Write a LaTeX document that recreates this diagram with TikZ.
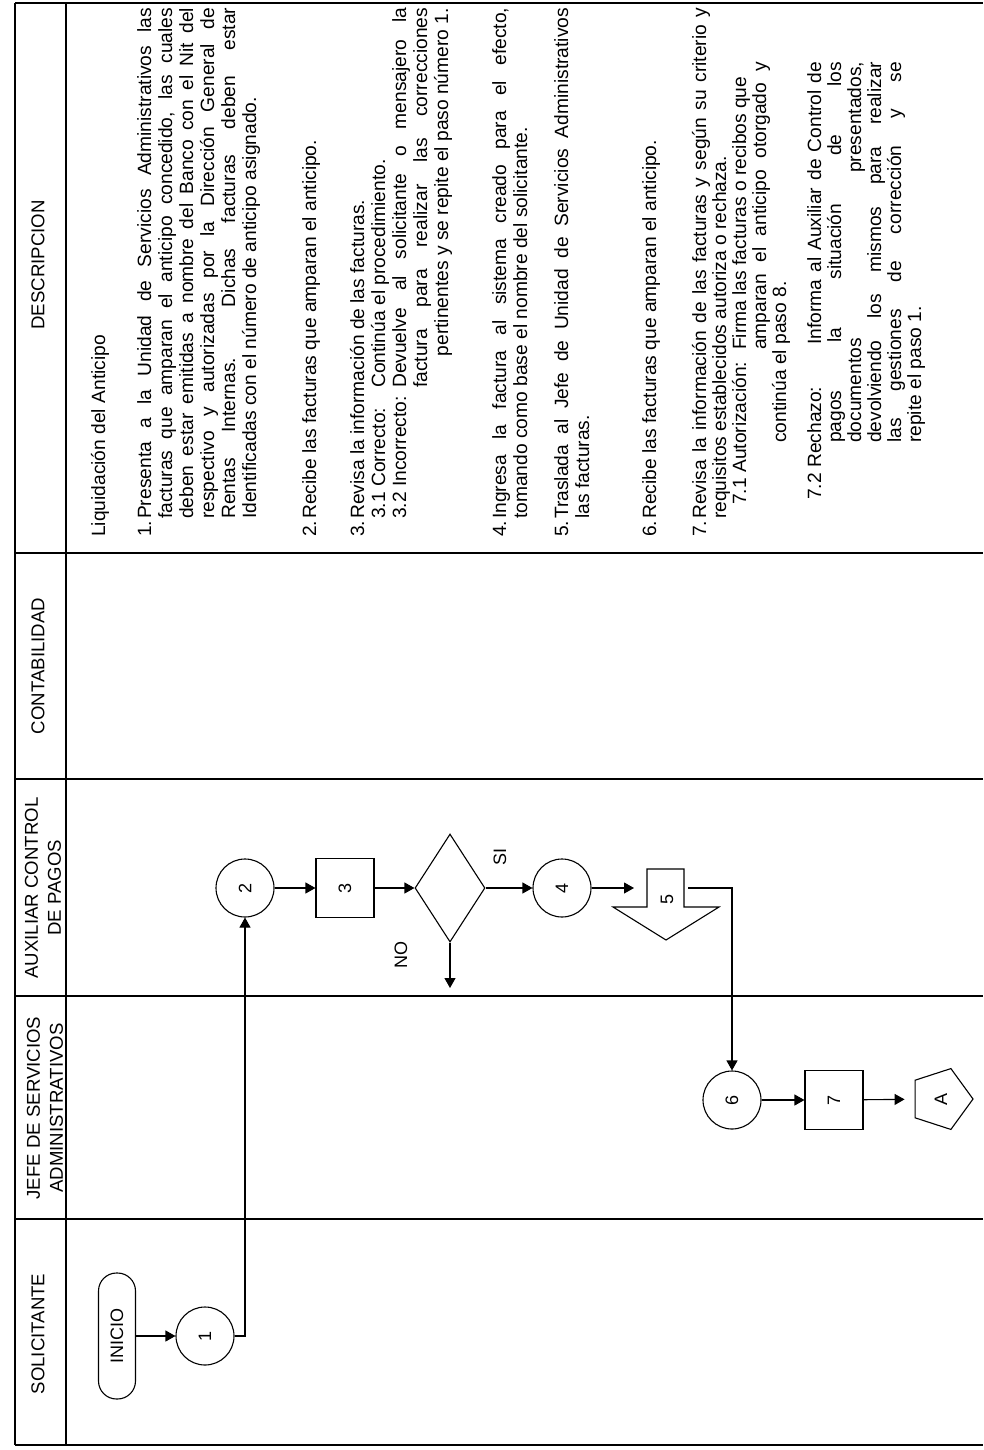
\documentclass[tikz,border=0pt]{standalone}
\usepackage{fontspec}
\setmainfont{Liberation Sans}
\usetikzlibrary{arrows.meta,shapes.geometric}
\newcommand\JL[2]{\makebox[#1pt][s]{#2}}
\newcommand\NB[2]{\makebox[#1pt][l]{#2}}
\begin{document}
\begin{tikzpicture}[x=1pt,y=-1pt,
  every node/.style={inner sep=0pt},
  lane/.style={line width=1.4pt},
  hdr/.style={rotate=90, font=\fontsize{18.6}{23}\selectfont, align=center},
  dtxt/.style={rotate=90, anchor=base west, font=\fontsize{19.2}{22}\selectfont},
  dtxtr/.style={dtxt, anchor=base east},
  flow/.style={line width=1.1pt},
  arr/.style={flow, -{Triangle[length=10pt,width=11pt]}},
  circ/.style={draw, circle, line width=1.1pt, minimum size=58pt, rotate=90, font=\fontsize{18}{20}\selectfont},
  proc/.style={draw, rectangle, line width=1.1pt, minimum width=59pt, minimum height=58pt, rotate=90, font=\fontsize{18}{20}\selectfont},
  term/.style={draw, rectangle, rounded corners=18pt, line width=1.1pt, minimum width=126pt, minimum height=37pt, rotate=90, font=\fontsize{18}{20}\selectfont},
  dec/.style={draw, diamond, line width=1.1pt, minimum width=70pt, minimum height=108pt},
  pent/.style={draw, regular polygon, regular polygon sides=5, minimum size=64pt, line width=1.1pt, rotate=90, shape border rotate=180, font=\fontsize{18}{20}\selectfont},
  lbl/.style={rotate=90, font=\fontsize{18}{20}\selectfont}
]
\useasboundingbox (0,0) rectangle (983,1450);
\fill[white] (0,0) rectangle (983,1450);

% table frame and lanes
\draw[lane] (15,3) -- (983,3);
\draw[lane] (15,1445) -- (983,1445);
\draw[lane] (15,3) -- (15,1445);
\draw[lane] (66,3) -- (66,1445);
\draw[lane] (15,553) -- (983,553);
\draw[lane] (15,779) -- (983,779);
\draw[lane] (15,996) -- (983,996);
\draw[lane] (15,1219) -- (983,1219);

% headers
\node[hdr] (hD) at (38,265) {DESCRIPCION};
\node[hdr] (hC) at (38,666) {CONTABILIDAD};
\node[hdr] (hA) at (43,888) {AUXILIAR CONTROL\\DE PAGOS};
\node[hdr] (hJ) at (45,1108) {JEFE DE SERVICIOS\\ADMINISTRATIVOS};
\node[hdr] (hS) at (38,1334) {SOLICITANTE};

% description
\node[dtxt] (t0) at (105,537) {Liquidación del Anticipo};
\node[dtxt] (t1a) at (151,537) {\NB{18}{1.}\JL{511}{Presenta a la Unidad de Servicios Administrativos las}};
\node[dtxt] (t1b) at (172,519) {\JL{511}{facturas que amparan el anticipo concedido, las cuales}};
\node[dtxt] (t1c) at (193,519) {\JL{511}{deben estar emitidas a nombre del Banco con el Nit del}};
\node[dtxt] (t1d) at (214,519) {\JL{511}{respectivo y autorizadas por la Dirección General de}};
\node[dtxt] (t1e) at (235,519) {\JL{511}{Rentas Internas.\ \ Dichas facturas deben estar}};
\node[dtxt] (t1f) at (256,519) {Identificadas con el número de anticipo asignado.};
\node[dtxt] (t2) at (316,537) {\NB{18}{2.}Recibe las facturas que amparan el anticipo.};
\node[dtxt] (t3a) at (364,537) {\NB{18}{3.}Revisa la información de las facturas.};
\node[dtxt] (t3b) at (385,519) {\NB{131}{3.1 Correcto:}Continúa el procedimiento.};
\node[dtxt] (t3c) at (406,519) {\NB{131}{3.2 Incorrecto:}\JL{380}{Devuelve al solicitante o mensajero la}};
\node[dtxt] (t3d) at (427,388) {\JL{380}{factura para realizar las correcciones}};
\node[dtxtr] (t3e) at (448,8) {pertinentes y se repite el paso número 1.};
\node[dtxt] (t4a) at (506,537) {\NB{18}{4.}\JL{511}{Ingresa la factura al sistema creado para el efecto,}};
\node[dtxt] (t4b) at (527,519) {tomando como base el nombre del solicitante.};
\node[dtxt] (t5a) at (568,537) {\NB{18}{5.}\JL{511}{Traslada al Jefe de Unidad de Servicios Administrativos}};
\node[dtxt] (t5b) at (589,519) {las facturas.};
\node[dtxt] (t6) at (656,537) {\NB{18}{6.}Recibe las facturas que amparan el anticipo.};
\node[dtxt] (t7a) at (706,537) {\NB{18}{7.}\JL{511}{Revisa la información de las facturas y según su criterio y}};
\node[dtxt] (t7b) at (726,519) {requisitos establecidos autoriza o rechaza.};
\node[dtxt] (t7c) at (746,505) {\NB{155}{7.1 Autorización:}Firma las facturas o recibos que};
\node[dtxt] (t7d) at (766,350) {\JL{288}{amparan el anticipo otorgado y}};
\node[dtxt] (t7e) at (786,443) {continúa el paso 8.};
\node[dtxt] (t7f) at (821,500) {\NB{155}{7.2 Rechazo:}\JL{283}{Informa al Auxiliar de Control de}};
\node[dtxt] (t7g) at (841,443) {\JL{381}{pagos la situación de los}};
\node[dtxt] (t7h) at (861,443) {\JL{381}{documentos presentados,}};
\node[dtxt] (t7i) at (881,443) {\JL{381}{devolviendo los mismos para realizar}};
\node[dtxt] (t7j) at (901,443) {\JL{381}{las gestiones de corrección y se}};
\node[dtxt] (t7k) at (921,443) {repite el paso 1.};

% flow nodes
\node[term] (ini) at (117,1336) {INICIO};
\node[circ] (c1) at (205,1336) {1};
\node[circ] (c2) at (245,888) {2};
\node[proc] (b3) at (345,888) {3};
\node[dec] (dd) at (450,888) {};
\node[circ] (c4) at (562,888) {4};
\node[circ] (c6) at (732,1100) {6};
\node[proc] (b7) at (834,1100) {7};
\node[pent] (pA) at (941,1099) {A};

% block arrow 5 (transfer)
\coordinate (s1) at (647,907);
\coordinate (s2) at (647,869);
\coordinate (s3) at (684,869);
\coordinate (s4) at (684,907);
\coordinate (s5) at (719,907);
\coordinate (s6) at (666,940);
\coordinate (s7) at (613,907);
\draw[flow] (s1) -- (s2) -- (s3) -- (s4) -- (s5) -- (s6) -- (s7) -- cycle;
\node[lbl] (n5) at (667,899) {5};
\coordinate (a5in) at (634,888);
\coordinate (a5out) at (688,888);
\coordinate (noend) at (450,988);

% labels
\node[lbl] (si) at (500,857) {SI};
\node[lbl] (no) at (401,955) {NO};

% connectors
\draw[arr] (ini) -- (c1);
\draw[arr] (c1) -| (c2);
\draw[arr] (c2) -- (b3);
\draw[arr] (b3) -- (dd);
\draw[arr] (dd) -- (c4);
\draw[arr] (dd) -- (noend);
\draw[arr] (c4) -- (a5in);
\draw[arr] (a5out) -| (c6);
\draw[arr] (c6) -- (b7);
\draw[arr, shorten >=10pt] (b7) -- (pA);
\end{tikzpicture}
\end{document}
